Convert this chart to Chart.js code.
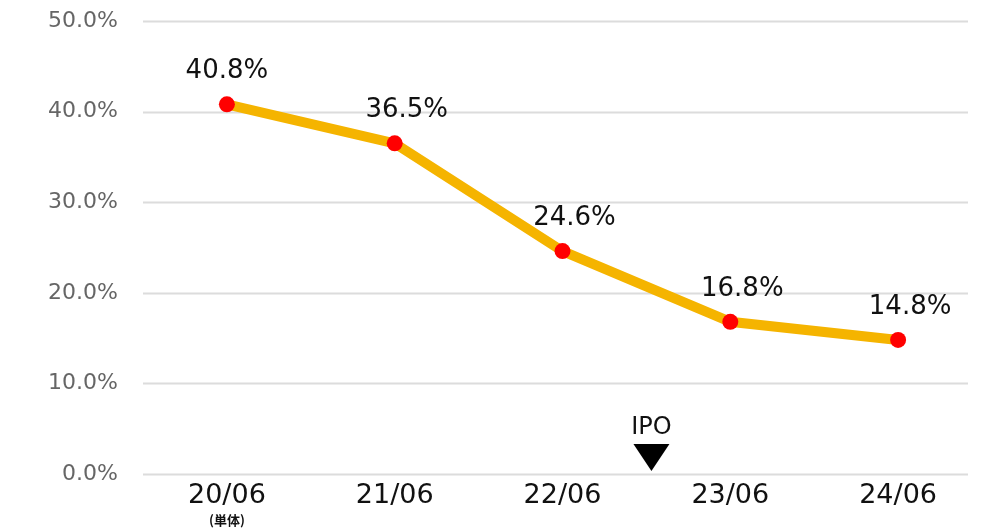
<!DOCTYPE html>
<html>
<head>
<meta charset="utf-8">
<script src="https://cdn.jsdelivr.net/npm/chart.js@4.4.1/dist/chart.umd.min.js"></script>
<style>
  html, body { margin: 0; padding: 0; background: #fff; }
  #wrap { width: 993px; height: 531px; position: relative; }
</style>
</head>
<body>
<div id="wrap"><canvas id="grafico"></canvas></div>
<script>
// ===== DADOS =====
const periodos = ['20/06', '21/06', '22/06', '23/06', '24/06'];
const valores = [40.8, 36.5, 24.6, 16.8, 14.8];
const eixoY = [0, 10, 20, 30, 40, 50];
const notaPrimeiro = '(単体)';
const ipoTexto = 'IPO';
const ipoPosicao = 2.53; // entre 22/06 e 23/06

const fmtPct = v => Number(v).toFixed(1) + '%';
const FONTE = '"DejaVu Sans", sans-serif';

// ===== PLUGIN: grade, rótulos e marcador IPO =====
const extras = {
  id: 'extras',
  beforeDatasetsDraw(chart) {
    const { ctx, scales: { y }, chartArea } = chart;
    ctx.save();
    ctx.strokeStyle = '#dcdcdc';
    ctx.lineWidth = 2;
    eixoY.forEach(v => {
      const py = Math.round(y.getPixelForValue(v)) + 0.5;
      ctx.beginPath();
      ctx.moveTo(chartArea.left, py);
      ctx.lineTo(968, py);
      ctx.stroke();
    });
    ctx.restore();
  },
  afterDatasetsDraw(chart) {
    const { ctx, scales: { x } } = chart;
    const meta = chart.getDatasetMeta(0);
    ctx.save();
    // valores acima dos pontos
    ctx.fillStyle = '#111';
    ctx.font = '26px ' + FONTE;
    ctx.textAlign = 'center';
    ctx.textBaseline = 'middle';
    meta.data.forEach((pt, i) => {
      ctx.fillText(fmtPct(valores[i]), pt.x + (i === 0 ? 0 : 12), pt.y - 33);
    });
    // (単体)
    ctx.font = 'bold 13px "Noto Sans CJK JP", sans-serif';
    ctx.fillText(notaPrimeiro, x.getPixelForValue(0), 520);
    // IPO
    const px = x.getPixelForValue(ipoPosicao);
    ctx.font = '24px ' + FONTE;
    ctx.fillText(ipoTexto, px, 428);
    ctx.beginPath();
    ctx.moveTo(px - 18, 444);
    ctx.lineTo(px + 18, 444);
    ctx.lineTo(px, 471);
    ctx.closePath();
    ctx.fillStyle = '#000';
    ctx.fill();
    ctx.restore();
  }
};

// ===== GRÁFICO =====
new Chart(document.getElementById('grafico'), {
  type: 'line',
  data: {
    labels: periodos,
    datasets: [{
      data: valores,
      borderColor: '#f5b400',
      borderWidth: 10,
      pointBackgroundColor: '#ff0000',
      pointBorderColor: '#ff0000',
      pointBorderWidth: 0,
      pointRadius: 8,
      tension: 0,
      fill: false
    }]
  },
  options: {
    responsive: true,
    maintainAspectRatio: false,
    animation: false,
    layout: { padding: { top: 21, right: 11, left: 0, bottom: 0 } },
    plugins: { legend: { display: false }, tooltip: { enabled: false } },
    scales: {
      x: {
        offset: true,
        grid: { display: false, drawTicks: false },
        border: { display: false },
        ticks: {
          color: '#111',
          padding: 6,
          font: { family: FONTE, size: 27 }
        },
        afterFit(s) { s.height = 57; }
      },
      y: {
        min: 0,
        max: 50,
        grid: { display: false, drawTicks: false },
        border: { display: false },
        ticks: {
          stepSize: 10,
          color: '#666',
          padding: 25,
          font: { family: FONTE, size: 22 },
          callback: v => fmtPct(v)
        },
        afterFit(s) {
          s.width = 143;
          s.paddingTop = 0;
          s.paddingBottom = 0;
        }
      }
    }
  },
  plugins: [extras]
});
</script>
</body>
</html>
